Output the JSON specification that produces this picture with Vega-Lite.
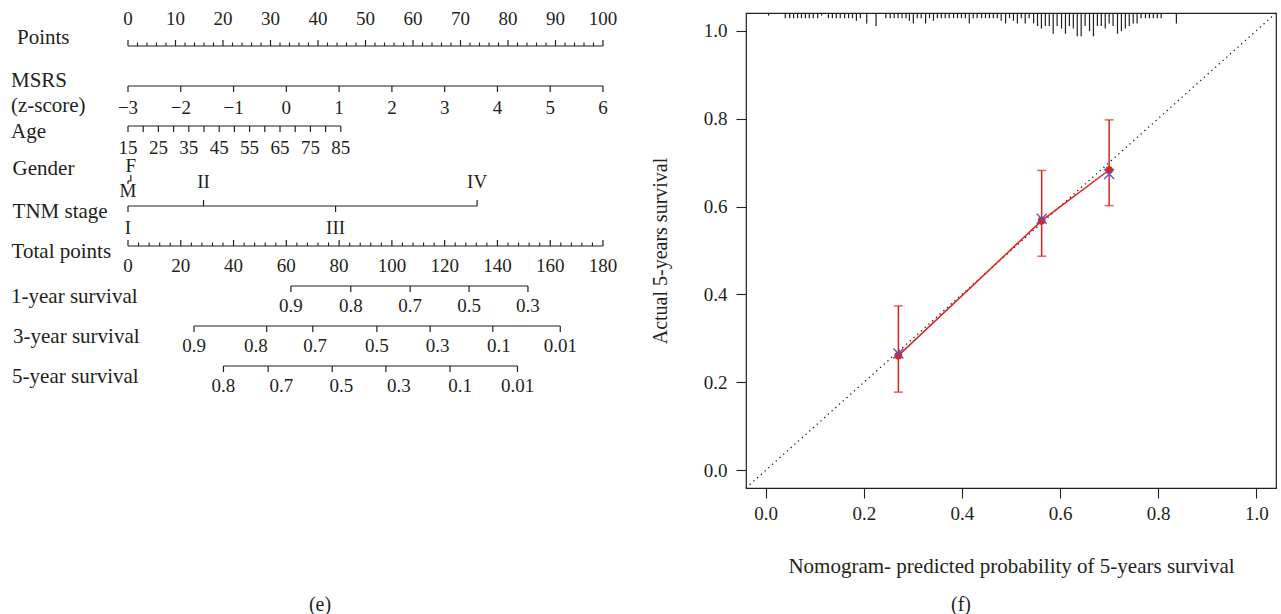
{
  "$schema": "https://vega.github.io/schema/vega-lite/v6.json",
  "padding": {"left": 0, "top": 9, "right": 0, "bottom": 0},
  "background": "white",
  "bounds": "flush",
  "spacing": 106,
  "config": {
    "view": {"stroke": "#231f20", "strokeWidth": 1.2},
    "text": {"font": "Liberation Serif", "fontSize": 19, "fill": "#231f20", "baseline": "middle"},
    "title": {"font": "Liberation Serif", "fontSize": 20, "fontWeight": "normal", "color": "#231f20"},
    "axis": {
      "labelFont": "Liberation Serif", "labelFontSize": 19, "labelColor": "#231f20",
      "titleFont": "Liberation Serif", "titleFontSize": 21, "titleFontWeight": "normal", "titleColor": "#231f20",
      "tickColor": "#231f20", "tickSize": 10, "tickWidth": 1.1, "domain": false, "grid": false, "labelPadding": 6
    }
  },
  "datasets": {
    "rows": [
      {"row": "Points", "level": 1},
      {"row": "MSRS", "level": 2},
      {"row": "Age", "level": 3},
      {"row": "Gender", "level": 4.375},
      {"row": "TNM stage", "level": 5},
      {"row": "Total points", "level": 6},
      {"row": "1-year survival", "level": 7},
      {"row": "3-year survival", "level": 8},
      {"row": "5-year survival", "level": 9}
    ],
    "names": [
      {"name": "Points", "row": "Points", "pts": -23.37},
      {"name": "MSRS", "row": "MSRS", "pts": -24.63},
      {"name": "(z-score)", "row": "MSRS", "pts": -24.63},
      {"name": "Age", "row": "Age", "pts": -24.63},
      {"name": "Gender", "row": "Gender", "pts": -24.3},
      {"name": "TNM stage", "row": "TNM stage", "pts": -24.3},
      {"name": "Total points", "row": "Total points", "pts": -24.5},
      {"name": "1-year survival", "row": "1-year survival", "pts": -24.63},
      {"name": "3-year survival", "row": "3-year survival", "pts": -24.2},
      {"name": "5-year survival", "row": "5-year survival", "pts": -24.4}
    ],
    "ticks": [
      {"row": "Points", "pts": 0, "kind": "major", "side": "up"},
      {"row": "Points", "pts": 2, "kind": "minor", "side": "up"},
      {"row": "Points", "pts": 4, "kind": "minor", "side": "up"},
      {"row": "Points", "pts": 6, "kind": "minor", "side": "up"},
      {"row": "Points", "pts": 8, "kind": "minor", "side": "up"},
      {"row": "Points", "pts": 10, "kind": "major", "side": "up"},
      {"row": "Points", "pts": 12, "kind": "minor", "side": "up"},
      {"row": "Points", "pts": 14, "kind": "minor", "side": "up"},
      {"row": "Points", "pts": 16, "kind": "minor", "side": "up"},
      {"row": "Points", "pts": 18, "kind": "minor", "side": "up"},
      {"row": "Points", "pts": 20, "kind": "major", "side": "up"},
      {"row": "Points", "pts": 22, "kind": "minor", "side": "up"},
      {"row": "Points", "pts": 24, "kind": "minor", "side": "up"},
      {"row": "Points", "pts": 26, "kind": "minor", "side": "up"},
      {"row": "Points", "pts": 28, "kind": "minor", "side": "up"},
      {"row": "Points", "pts": 30, "kind": "major", "side": "up"},
      {"row": "Points", "pts": 32, "kind": "minor", "side": "up"},
      {"row": "Points", "pts": 34, "kind": "minor", "side": "up"},
      {"row": "Points", "pts": 36, "kind": "minor", "side": "up"},
      {"row": "Points", "pts": 38, "kind": "minor", "side": "up"},
      {"row": "Points", "pts": 40, "kind": "major", "side": "up"},
      {"row": "Points", "pts": 42, "kind": "minor", "side": "up"},
      {"row": "Points", "pts": 44, "kind": "minor", "side": "up"},
      {"row": "Points", "pts": 46, "kind": "minor", "side": "up"},
      {"row": "Points", "pts": 48, "kind": "minor", "side": "up"},
      {"row": "Points", "pts": 50, "kind": "major", "side": "up"},
      {"row": "Points", "pts": 52, "kind": "minor", "side": "up"},
      {"row": "Points", "pts": 54, "kind": "minor", "side": "up"},
      {"row": "Points", "pts": 56, "kind": "minor", "side": "up"},
      {"row": "Points", "pts": 58, "kind": "minor", "side": "up"},
      {"row": "Points", "pts": 60, "kind": "major", "side": "up"},
      {"row": "Points", "pts": 62, "kind": "minor", "side": "up"},
      {"row": "Points", "pts": 64, "kind": "minor", "side": "up"},
      {"row": "Points", "pts": 66, "kind": "minor", "side": "up"},
      {"row": "Points", "pts": 68, "kind": "minor", "side": "up"},
      {"row": "Points", "pts": 70, "kind": "major", "side": "up"},
      {"row": "Points", "pts": 72, "kind": "minor", "side": "up"},
      {"row": "Points", "pts": 74, "kind": "minor", "side": "up"},
      {"row": "Points", "pts": 76, "kind": "minor", "side": "up"},
      {"row": "Points", "pts": 78, "kind": "minor", "side": "up"},
      {"row": "Points", "pts": 80, "kind": "major", "side": "up"},
      {"row": "Points", "pts": 82, "kind": "minor", "side": "up"},
      {"row": "Points", "pts": 84, "kind": "minor", "side": "up"},
      {"row": "Points", "pts": 86, "kind": "minor", "side": "up"},
      {"row": "Points", "pts": 88, "kind": "minor", "side": "up"},
      {"row": "Points", "pts": 90, "kind": "major", "side": "up"},
      {"row": "Points", "pts": 92, "kind": "minor", "side": "up"},
      {"row": "Points", "pts": 94, "kind": "minor", "side": "up"},
      {"row": "Points", "pts": 96, "kind": "minor", "side": "up"},
      {"row": "Points", "pts": 98, "kind": "minor", "side": "up"},
      {"row": "Points", "pts": 100, "kind": "major", "side": "up"},
      {"row": "MSRS", "pts": 0, "kind": "major", "side": "down"},
      {"row": "MSRS", "pts": 11.111, "kind": "major", "side": "down"},
      {"row": "MSRS", "pts": 22.222, "kind": "major", "side": "down"},
      {"row": "MSRS", "pts": 33.333, "kind": "major", "side": "down"},
      {"row": "MSRS", "pts": 44.444, "kind": "major", "side": "down"},
      {"row": "MSRS", "pts": 55.556, "kind": "major", "side": "down"},
      {"row": "MSRS", "pts": 66.667, "kind": "major", "side": "down"},
      {"row": "MSRS", "pts": 77.778, "kind": "major", "side": "down"},
      {"row": "MSRS", "pts": 88.889, "kind": "major", "side": "down"},
      {"row": "MSRS", "pts": 100, "kind": "major", "side": "down"},
      {"row": "Age", "pts": 0, "kind": "major", "side": "down"},
      {"row": "Age", "pts": 3.2, "kind": "major", "side": "down"},
      {"row": "Age", "pts": 6.4, "kind": "major", "side": "down"},
      {"row": "Age", "pts": 9.6, "kind": "major", "side": "down"},
      {"row": "Age", "pts": 12.8, "kind": "major", "side": "down"},
      {"row": "Age", "pts": 16, "kind": "major", "side": "down"},
      {"row": "Age", "pts": 19.2, "kind": "major", "side": "down"},
      {"row": "Age", "pts": 22.4, "kind": "major", "side": "down"},
      {"row": "Age", "pts": 25.6, "kind": "major", "side": "down"},
      {"row": "Age", "pts": 28.8, "kind": "major", "side": "down"},
      {"row": "Age", "pts": 32, "kind": "major", "side": "down"},
      {"row": "Age", "pts": 35.2, "kind": "major", "side": "down"},
      {"row": "Age", "pts": 38.4, "kind": "major", "side": "down"},
      {"row": "Age", "pts": 41.6, "kind": "major", "side": "down"},
      {"row": "Age", "pts": 44.8, "kind": "major", "side": "down"},
      {"row": "Gender", "pts": 0, "kind": "minor", "side": "down"},
      {"row": "Gender", "pts": 0.6, "kind": "major", "side": "up"},
      {"row": "TNM stage", "pts": 0, "kind": "major", "side": "down"},
      {"row": "TNM stage", "pts": 15.9, "kind": "major", "side": "up"},
      {"row": "TNM stage", "pts": 43.7, "kind": "major", "side": "down"},
      {"row": "TNM stage", "pts": 73.5, "kind": "major", "side": "up"},
      {"row": "Total points", "pts": 0, "kind": "major", "side": "up"},
      {"row": "Total points", "pts": 2.222, "kind": "minor", "side": "up"},
      {"row": "Total points", "pts": 4.444, "kind": "minor", "side": "up"},
      {"row": "Total points", "pts": 6.667, "kind": "minor", "side": "up"},
      {"row": "Total points", "pts": 8.889, "kind": "minor", "side": "up"},
      {"row": "Total points", "pts": 11.111, "kind": "major", "side": "up"},
      {"row": "Total points", "pts": 13.333, "kind": "minor", "side": "up"},
      {"row": "Total points", "pts": 15.556, "kind": "minor", "side": "up"},
      {"row": "Total points", "pts": 17.778, "kind": "minor", "side": "up"},
      {"row": "Total points", "pts": 20, "kind": "minor", "side": "up"},
      {"row": "Total points", "pts": 22.222, "kind": "major", "side": "up"},
      {"row": "Total points", "pts": 24.444, "kind": "minor", "side": "up"},
      {"row": "Total points", "pts": 26.667, "kind": "minor", "side": "up"},
      {"row": "Total points", "pts": 28.889, "kind": "minor", "side": "up"},
      {"row": "Total points", "pts": 31.111, "kind": "minor", "side": "up"},
      {"row": "Total points", "pts": 33.333, "kind": "major", "side": "up"},
      {"row": "Total points", "pts": 35.556, "kind": "minor", "side": "up"},
      {"row": "Total points", "pts": 37.778, "kind": "minor", "side": "up"},
      {"row": "Total points", "pts": 40, "kind": "minor", "side": "up"},
      {"row": "Total points", "pts": 42.222, "kind": "minor", "side": "up"},
      {"row": "Total points", "pts": 44.444, "kind": "major", "side": "up"},
      {"row": "Total points", "pts": 46.667, "kind": "minor", "side": "up"},
      {"row": "Total points", "pts": 48.889, "kind": "minor", "side": "up"},
      {"row": "Total points", "pts": 51.111, "kind": "minor", "side": "up"},
      {"row": "Total points", "pts": 53.333, "kind": "minor", "side": "up"},
      {"row": "Total points", "pts": 55.556, "kind": "major", "side": "up"},
      {"row": "Total points", "pts": 57.778, "kind": "minor", "side": "up"},
      {"row": "Total points", "pts": 60, "kind": "minor", "side": "up"},
      {"row": "Total points", "pts": 62.222, "kind": "minor", "side": "up"},
      {"row": "Total points", "pts": 64.444, "kind": "minor", "side": "up"},
      {"row": "Total points", "pts": 66.667, "kind": "major", "side": "up"},
      {"row": "Total points", "pts": 68.889, "kind": "minor", "side": "up"},
      {"row": "Total points", "pts": 71.111, "kind": "minor", "side": "up"},
      {"row": "Total points", "pts": 73.333, "kind": "minor", "side": "up"},
      {"row": "Total points", "pts": 75.556, "kind": "minor", "side": "up"},
      {"row": "Total points", "pts": 77.778, "kind": "major", "side": "up"},
      {"row": "Total points", "pts": 80, "kind": "minor", "side": "up"},
      {"row": "Total points", "pts": 82.222, "kind": "minor", "side": "up"},
      {"row": "Total points", "pts": 84.444, "kind": "minor", "side": "up"},
      {"row": "Total points", "pts": 86.667, "kind": "minor", "side": "up"},
      {"row": "Total points", "pts": 88.889, "kind": "major", "side": "up"},
      {"row": "Total points", "pts": 91.111, "kind": "minor", "side": "up"},
      {"row": "Total points", "pts": 93.333, "kind": "minor", "side": "up"},
      {"row": "Total points", "pts": 95.556, "kind": "minor", "side": "up"},
      {"row": "Total points", "pts": 97.778, "kind": "minor", "side": "up"},
      {"row": "Total points", "pts": 100, "kind": "major", "side": "up"},
      {"row": "1-year survival", "pts": 34.3, "kind": "major", "side": "down"},
      {"row": "1-year survival", "pts": 46.9, "kind": "major", "side": "down"},
      {"row": "1-year survival", "pts": 59.4, "kind": "major", "side": "down"},
      {"row": "1-year survival", "pts": 71.8, "kind": "major", "side": "down"},
      {"row": "1-year survival", "pts": 84.2, "kind": "major", "side": "down"},
      {"row": "3-year survival", "pts": 13.9, "kind": "major", "side": "down"},
      {"row": "3-year survival", "pts": 29.2, "kind": "major", "side": "down"},
      {"row": "3-year survival", "pts": 38.9, "kind": "major", "side": "down"},
      {"row": "3-year survival", "pts": 52.4, "kind": "major", "side": "down"},
      {"row": "3-year survival", "pts": 63.6, "kind": "major", "side": "down"},
      {"row": "3-year survival", "pts": 76.8, "kind": "major", "side": "down"},
      {"row": "3-year survival", "pts": 91.0, "kind": "major", "side": "down"},
      {"row": "5-year survival", "pts": 20.1, "kind": "major", "side": "down"},
      {"row": "5-year survival", "pts": 29.5, "kind": "major", "side": "down"},
      {"row": "5-year survival", "pts": 43.0, "kind": "major", "side": "down"},
      {"row": "5-year survival", "pts": 54.3, "kind": "major", "side": "down"},
      {"row": "5-year survival", "pts": 67.8, "kind": "major", "side": "down"},
      {"row": "5-year survival", "pts": 82.0, "kind": "major", "side": "down"}
    ],
    "labels": [
      {"row": "Points", "text": "0", "pts": 0, "side": "up"},
      {"row": "Points", "text": "10", "pts": 10, "side": "up"},
      {"row": "Points", "text": "20", "pts": 20, "side": "up"},
      {"row": "Points", "text": "30", "pts": 30, "side": "up"},
      {"row": "Points", "text": "40", "pts": 40, "side": "up"},
      {"row": "Points", "text": "50", "pts": 50, "side": "up"},
      {"row": "Points", "text": "60", "pts": 60, "side": "up"},
      {"row": "Points", "text": "70", "pts": 70, "side": "up"},
      {"row": "Points", "text": "80", "pts": 80, "side": "up"},
      {"row": "Points", "text": "90", "pts": 90, "side": "up"},
      {"row": "Points", "text": "100", "pts": 100, "side": "up"},
      {"row": "MSRS", "text": "−3", "pts": 0, "side": "down"},
      {"row": "MSRS", "text": "−2", "pts": 11.111, "side": "down"},
      {"row": "MSRS", "text": "−1", "pts": 22.222, "side": "down"},
      {"row": "MSRS", "text": "0", "pts": 33.333, "side": "down"},
      {"row": "MSRS", "text": "1", "pts": 44.444, "side": "down"},
      {"row": "MSRS", "text": "2", "pts": 55.556, "side": "down"},
      {"row": "MSRS", "text": "3", "pts": 66.667, "side": "down"},
      {"row": "MSRS", "text": "4", "pts": 77.778, "side": "down"},
      {"row": "MSRS", "text": "5", "pts": 88.889, "side": "down"},
      {"row": "MSRS", "text": "6", "pts": 100, "side": "down"},
      {"row": "Age", "text": "15", "pts": 0, "side": "down"},
      {"row": "Age", "text": "25", "pts": 6.4, "side": "down"},
      {"row": "Age", "text": "35", "pts": 12.8, "side": "down"},
      {"row": "Age", "text": "45", "pts": 19.2, "side": "down"},
      {"row": "Age", "text": "55", "pts": 25.6, "side": "down"},
      {"row": "Age", "text": "65", "pts": 32, "side": "down"},
      {"row": "Age", "text": "75", "pts": 38.4, "side": "down"},
      {"row": "Age", "text": "85", "pts": 44.8, "side": "down"},
      {"row": "Gender", "text": "F", "pts": 0.6, "side": "up"},
      {"row": "Gender", "text": "M", "pts": 0, "side": "down"},
      {"row": "TNM stage", "text": "I", "pts": 0, "side": "down"},
      {"row": "TNM stage", "text": "II", "pts": 15.9, "side": "up"},
      {"row": "TNM stage", "text": "III", "pts": 43.7, "side": "down"},
      {"row": "TNM stage", "text": "IV", "pts": 73.5, "side": "up"},
      {"row": "Total points", "text": "0", "pts": 0, "side": "down"},
      {"row": "Total points", "text": "20", "pts": 11.111, "side": "down"},
      {"row": "Total points", "text": "40", "pts": 22.222, "side": "down"},
      {"row": "Total points", "text": "60", "pts": 33.333, "side": "down"},
      {"row": "Total points", "text": "80", "pts": 44.444, "side": "down"},
      {"row": "Total points", "text": "100", "pts": 55.556, "side": "down"},
      {"row": "Total points", "text": "120", "pts": 66.667, "side": "down"},
      {"row": "Total points", "text": "140", "pts": 77.778, "side": "down"},
      {"row": "Total points", "text": "160", "pts": 88.889, "side": "down"},
      {"row": "Total points", "text": "180", "pts": 100, "side": "down"},
      {"row": "1-year survival", "text": "0.9", "pts": 34.3, "side": "down"},
      {"row": "1-year survival", "text": "0.8", "pts": 46.9, "side": "down"},
      {"row": "1-year survival", "text": "0.7", "pts": 59.4, "side": "down"},
      {"row": "1-year survival", "text": "0.5", "pts": 71.8, "side": "down"},
      {"row": "1-year survival", "text": "0.3", "pts": 84.2, "side": "down"},
      {"row": "3-year survival", "text": "0.9", "pts": 13.9, "side": "down"},
      {"row": "3-year survival", "text": "0.8", "pts": 26.9, "side": "down"},
      {"row": "3-year survival", "text": "0.7", "pts": 39.4, "side": "down"},
      {"row": "3-year survival", "text": "0.5", "pts": 52.4, "side": "down"},
      {"row": "3-year survival", "text": "0.3", "pts": 65.2, "side": "down"},
      {"row": "3-year survival", "text": "0.1", "pts": 78.1, "side": "down"},
      {"row": "3-year survival", "text": "0.01", "pts": 91.0, "side": "down"},
      {"row": "5-year survival", "text": "0.8", "pts": 20.1, "side": "down"},
      {"row": "5-year survival", "text": "0.7", "pts": 32.3, "side": "down"},
      {"row": "5-year survival", "text": "0.5", "pts": 44.9, "side": "down"},
      {"row": "5-year survival", "text": "0.3", "pts": 57.0, "side": "down"},
      {"row": "5-year survival", "text": "0.1", "pts": 69.9, "side": "down"},
      {"row": "5-year survival", "text": "0.01", "pts": 82.0, "side": "down"}
    ],
    "calib": [
      {"p": 0.2705, "km": 0.261, "lo": 0.178, "hi": 0.374, "corr": 0.266},
      {"p": 0.5625, "km": 0.568, "lo": 0.487, "hi": 0.682, "corr": 0.572},
      {"p": 0.700, "km": 0.683, "lo": 0.602, "hi": 0.797, "corr": 0.674}
    ],
    "rug": [
      {"p": 0.006, "freq": 1},
      {"p": 0.040, "freq": 2}, {"p": 0.049, "freq": 2}, {"p": 0.057, "freq": 2}, {"p": 0.065, "freq": 2}, {"p": 0.073, "freq": 2},
      {"p": 0.081, "freq": 2}, {"p": 0.089, "freq": 2}, {"p": 0.097, "freq": 2}, {"p": 0.106, "freq": 2},
      {"p": 0.114, "freq": 1},
      {"p": 0.128, "freq": 2}, {"p": 0.136, "freq": 2}, {"p": 0.144, "freq": 2}, {"p": 0.152, "freq": 2}, {"p": 0.161, "freq": 2},
      {"p": 0.169, "freq": 2}, {"p": 0.177, "freq": 2},
      {"p": 0.185, "freq": 3}, {"p": 0.193, "freq": 2},
      {"p": 0.206, "freq": 4}, {"p": 0.225, "freq": 5},
      {"p": 0.245, "freq": 2}, {"p": 0.254, "freq": 2}, {"p": 0.262, "freq": 2}, {"p": 0.270, "freq": 2}, {"p": 0.278, "freq": 2}, {"p": 0.286, "freq": 2},
      {"p": 0.293, "freq": 3}, {"p": 0.301, "freq": 4}, {"p": 0.309, "freq": 2}, {"p": 0.317, "freq": 2}, {"p": 0.326, "freq": 4}, {"p": 0.334, "freq": 2}, {"p": 0.342, "freq": 3},
      {"p": 0.350, "freq": 2}, {"p": 0.358, "freq": 2}, {"p": 0.366, "freq": 2}, {"p": 0.374, "freq": 2}, {"p": 0.383, "freq": 2}, {"p": 0.391, "freq": 2}, {"p": 0.399, "freq": 2}, {"p": 0.407, "freq": 2},
      {"p": 0.415, "freq": 4}, {"p": 0.423, "freq": 2},
      {"p": 0.431, "freq": 2}, {"p": 0.440, "freq": 2}, {"p": 0.448, "freq": 2}, {"p": 0.456, "freq": 2}, {"p": 0.464, "freq": 2}, {"p": 0.472, "freq": 2},
      {"p": 0.480, "freq": 3}, {"p": 0.489, "freq": 4}, {"p": 0.497, "freq": 2}, {"p": 0.505, "freq": 3}, {"p": 0.513, "freq": 4}, {"p": 0.521, "freq": 2}, {"p": 0.529, "freq": 4}, {"p": 0.537, "freq": 2}, {"p": 0.546, "freq": 4},
      {"p": 0.554, "freq": 5}, {"p": 0.562, "freq": 6}, {"p": 0.570, "freq": 5}, {"p": 0.578, "freq": 5}, {"p": 0.586, "freq": 8}, {"p": 0.594, "freq": 5},
      {"p": 0.603, "freq": 6}, {"p": 0.611, "freq": 8}, {"p": 0.619, "freq": 5}, {"p": 0.627, "freq": 6}, {"p": 0.635, "freq": 9}, {"p": 0.643, "freq": 9},
      {"p": 0.651, "freq": 5}, {"p": 0.660, "freq": 7}, {"p": 0.668, "freq": 9}, {"p": 0.676, "freq": 5}, {"p": 0.684, "freq": 5}, {"p": 0.692, "freq": 6},
      {"p": 0.700, "freq": 4}, {"p": 0.708, "freq": 5}, {"p": 0.717, "freq": 8}, {"p": 0.725, "freq": 7}, {"p": 0.733, "freq": 6}, {"p": 0.741, "freq": 5},
      {"p": 0.749, "freq": 4}, {"p": 0.757, "freq": 4}, {"p": 0.765, "freq": 2},
      {"p": 0.774, "freq": 2}, {"p": 0.782, "freq": 2}, {"p": 0.790, "freq": 2}, {"p": 0.798, "freq": 2}, {"p": 0.806, "freq": 2},
      {"p": 0.837, "freq": 4}
    ]
  },
  "hconcat": [
    {
      "width": 640,
      "height": 580,
      "view": {"stroke": null},
      "title": {"text": "(e)", "orient": "bottom", "anchor": "middle", "offset": 2},
      "encoding": {
        "x": {"field": "pts", "type": "quantitative", "scale": {"domain": [-26.947, 107.789], "nice": false, "zero": false}, "axis": null},
        "y": {"field": "level", "type": "quantitative", "scale": {"domain": [0.175, 14.675], "reverse": true, "nice": false, "zero": false}, "axis": null}
      },
      "layer": [
        {
          "data": {"name": "ticks"},
          "transform": [
            {"lookup": "row", "from": {"data": {"name": "rows"}, "key": "row", "fields": ["level"]}},
            {"aggregate": [{"op": "min", "field": "pts", "as": "lo"}, {"op": "max", "field": "pts", "as": "hi"}], "groupby": ["row", "level"]}
          ],
          "mark": {"type": "rule", "color": "#231f20", "strokeWidth": 1.2},
          "encoding": {
            "x": {"field": "lo", "type": "quantitative", "scale": {"domain": [-26.947, 107.789], "nice": false, "zero": false}, "axis": null},
            "x2": {"field": "hi"}
          }
        },
        {
          "data": {"name": "ticks"},
          "transform": [
            {"lookup": "row", "from": {"data": {"name": "rows"}, "key": "row", "fields": ["level"]}},
            {"filter": "datum.side == 'up' && datum.kind == 'major'"}
          ],
          "mark": {"type": "rule", "color": "#231f20", "strokeWidth": 1.2, "y2Offset": -6},
          "encoding": {"y2": {"field": "level"}}
        },
        {
          "data": {"name": "ticks"},
          "transform": [
            {"lookup": "row", "from": {"data": {"name": "rows"}, "key": "row", "fields": ["level"]}},
            {"filter": "datum.side == 'up' && datum.kind == 'minor'"}
          ],
          "mark": {"type": "rule", "color": "#231f20", "strokeWidth": 1.1, "y2Offset": -3.5},
          "encoding": {"y2": {"field": "level"}}
        },
        {
          "data": {"name": "ticks"},
          "transform": [
            {"lookup": "row", "from": {"data": {"name": "rows"}, "key": "row", "fields": ["level"]}},
            {"filter": "datum.side == 'down' && datum.kind == 'major'"}
          ],
          "mark": {"type": "rule", "color": "#231f20", "strokeWidth": 1.2, "y2Offset": 6},
          "encoding": {"y2": {"field": "level"}}
        },
        {
          "data": {"name": "ticks"},
          "transform": [
            {"lookup": "row", "from": {"data": {"name": "rows"}, "key": "row", "fields": ["level"]}},
            {"filter": "datum.side == 'down' && datum.kind == 'minor'"}
          ],
          "mark": {"type": "rule", "color": "#231f20", "strokeWidth": 1.2, "y2Offset": 3},
          "encoding": {"y2": {"field": "level"}}
        },
        {
          "data": {"name": "labels"},
          "transform": [
            {"lookup": "row", "from": {"data": {"name": "rows"}, "key": "row", "fields": ["level"]}},
            {"filter": "datum.row == 'Points'"}
          ],
          "mark": {"type": "text", "dy": -27},
          "encoding": {"text": {"field": "text"}}
        },
        {
          "data": {"name": "labels"},
          "transform": [
            {"lookup": "row", "from": {"data": {"name": "rows"}, "key": "row", "fields": ["level"]}},
            {"filter": "datum.row == 'TNM stage' && datum.side == 'up'"}
          ],
          "mark": {"type": "text", "dy": -24},
          "encoding": {"text": {"field": "text"}}
        },
        {
          "data": {"name": "labels"},
          "transform": [
            {"lookup": "row", "from": {"data": {"name": "rows"}, "key": "row", "fields": ["level"]}},
            {"filter": "(datum.row == 'MSRS' || datum.row == 'Age' || datum.row == 'TNM stage') && datum.side == 'down'"}
          ],
          "mark": {"type": "text", "dy": 22},
          "encoding": {"text": {"field": "text"}}
        },
        {
          "data": {"name": "labels"},
          "transform": [
            {"lookup": "row", "from": {"data": {"name": "rows"}, "key": "row", "fields": ["level"]}},
            {"filter": "datum.row == 'Total points' || indexof(datum.row, 'survival') >= 0"}
          ],
          "mark": {"type": "text", "dy": 20},
          "encoding": {"text": {"field": "text"}}
        },
        {
          "data": {"name": "labels"},
          "transform": [
            {"lookup": "row", "from": {"data": {"name": "rows"}, "key": "row", "fields": ["level"]}},
            {"filter": "datum.row == 'Gender' && datum.side == 'up'"}
          ],
          "mark": {"type": "text", "dy": -15},
          "encoding": {"text": {"field": "text"}}
        },
        {
          "data": {"name": "labels"},
          "transform": [
            {"lookup": "row", "from": {"data": {"name": "rows"}, "key": "row", "fields": ["level"]}},
            {"filter": "datum.row == 'Gender' && datum.side == 'down'"}
          ],
          "mark": {"type": "text", "dy": 10},
          "encoding": {"text": {"field": "text"}}
        },
        {
          "data": {"name": "names"},
          "transform": [
            {"lookup": "row", "from": {"data": {"name": "rows"}, "key": "row", "fields": ["level"]}},
            {"filter": "datum.name == 'Points'"}
          ],
          "mark": {"type": "text", "align": "left", "dy": -8, "fontSize": 21},
          "encoding": {"text": {"field": "name"}}
        },
        {
          "data": {"name": "names"},
          "transform": [
            {"lookup": "row", "from": {"data": {"name": "rows"}, "key": "row", "fields": ["level"]}},
            {"filter": "datum.name == 'MSRS'"}
          ],
          "mark": {"type": "text", "align": "left", "dy": -5, "fontSize": 21},
          "encoding": {"text": {"field": "name"}}
        },
        {
          "data": {"name": "names"},
          "transform": [
            {"lookup": "row", "from": {"data": {"name": "rows"}, "key": "row", "fields": ["level"]}},
            {"filter": "datum.name == '(z-score)'"}
          ],
          "mark": {"type": "text", "align": "left", "dy": 20, "fontSize": 21},
          "encoding": {"text": {"field": "name"}}
        },
        {
          "data": {"name": "names"},
          "transform": [
            {"lookup": "row", "from": {"data": {"name": "rows"}, "key": "row", "fields": ["level"]}},
            {"filter": "datum.name == 'Gender'"}
          ],
          "mark": {"type": "text", "align": "left", "dy": -12, "fontSize": 21},
          "encoding": {"text": {"field": "name"}}
        },
        {
          "data": {"name": "names"},
          "transform": [
            {"lookup": "row", "from": {"data": {"name": "rows"}, "key": "row", "fields": ["level"]}},
            {"filter": "datum.name == 'Age' || datum.name == 'TNM stage' || datum.name == 'Total points'"}
          ],
          "mark": {"type": "text", "align": "left", "dy": 5.5, "fontSize": 21},
          "encoding": {"text": {"field": "name"}}
        },
        {
          "data": {"name": "names"},
          "transform": [
            {"lookup": "row", "from": {"data": {"name": "rows"}, "key": "row", "fields": ["level"]}},
            {"filter": "indexof(datum.name, 'survival') >= 0"}
          ],
          "mark": {"type": "text", "align": "left", "dy": 11, "fontSize": 21},
          "encoding": {"text": {"field": "name"}}
        }
      ]
    },
    {
      "width": 530,
      "height": 475,
      "title": {"text": "(f)", "orient": "bottom", "anchor": "middle", "offset": 19, "dx": -50},
      "encoding": {
        "x": {
          "field": "p", "type": "quantitative",
          "scale": {"domain": [-0.04, 1.04], "nice": false, "zero": false},
          "axis": {"values": [0, 0.2, 0.4, 0.6, 0.8, 1], "format": ".1f", "title": "Nomogram- predicted probability of 5-years survival", "titlePadding": 32}
        }
      },
      "layer": [
        {
          "layer": [
            {
              "data": {"values": [{"p": -0.04, "o": -0.04}, {"p": 1.04, "o": 1.04}]},
              "mark": {"type": "line", "color": "#231f20", "strokeWidth": 1.3, "strokeDash": [1.3, 3.7]},
              "encoding": {
                "y": {"field": "o", "type": "quantitative", "scale": {"domain": [-0.04, 1.04], "nice": false, "zero": false},
                      "axis": {"values": [0, 0.2, 0.4, 0.6, 0.8, 1], "format": ".1f", "title": "Actual 5-years survival", "titleFontSize": 20, "titlePadding": 33, "labelPadding": 9}}
              }
            },
            {
              "data": {"name": "calib"},
              "mark": {"type": "rule", "color": "#e3211c", "strokeWidth": 1.5},
              "encoding": {
                "y": {"field": "lo", "type": "quantitative", "scale": {"domain": [-0.04, 1.04], "nice": false, "zero": false},
                      "axis": {"values": [0, 0.2, 0.4, 0.6, 0.8, 1], "format": ".1f", "title": "Actual 5-years survival", "titleFontSize": 20, "titlePadding": 33, "labelPadding": 9}},
                "y2": {"field": "hi"}
              }
            },
            {
              "data": {"name": "calib"},
              "mark": {"type": "tick", "orient": "horizontal", "color": "#e3211c", "size": 9, "thickness": 1.5},
              "encoding": {
                "y": {"field": "lo", "type": "quantitative", "scale": {"domain": [-0.04, 1.04], "nice": false, "zero": false},
                      "axis": {"values": [0, 0.2, 0.4, 0.6, 0.8, 1], "format": ".1f", "title": "Actual 5-years survival", "titleFontSize": 20, "titlePadding": 33, "labelPadding": 9}}
              }
            },
            {
              "data": {"name": "calib"},
              "mark": {"type": "tick", "orient": "horizontal", "color": "#e3211c", "size": 9, "thickness": 1.5},
              "encoding": {
                "y": {"field": "hi", "type": "quantitative", "scale": {"domain": [-0.04, 1.04], "nice": false, "zero": false},
                      "axis": {"values": [0, 0.2, 0.4, 0.6, 0.8, 1], "format": ".1f", "title": "Actual 5-years survival", "titleFontSize": 20, "titlePadding": 33, "labelPadding": 9}}
              }
            },
            {
              "data": {"name": "calib"},
              "mark": {"type": "line", "color": "#e3211c", "strokeWidth": 1.5},
              "encoding": {
                "y": {"field": "km", "type": "quantitative", "scale": {"domain": [-0.04, 1.04], "nice": false, "zero": false},
                      "axis": {"values": [0, 0.2, 0.4, 0.6, 0.8, 1], "format": ".1f", "title": "Actual 5-years survival", "titleFontSize": 20, "titlePadding": 33, "labelPadding": 9}}
              }
            },
            {
              "data": {"name": "calib"},
              "mark": {"type": "point", "filled": true, "color": "#e3211c", "size": 60, "opacity": 1},
              "encoding": {
                "y": {"field": "km", "type": "quantitative", "scale": {"domain": [-0.04, 1.04], "nice": false, "zero": false},
                      "axis": {"values": [0, 0.2, 0.4, 0.6, 0.8, 1], "format": ".1f", "title": "Actual 5-years survival", "titleFontSize": 20, "titlePadding": 33, "labelPadding": 9}}
              }
            },
            {
              "data": {"name": "calib"},
              "mark": {"type": "point", "shape": "M-1,-1L1,1M-1,1L1,-1", "filled": false, "color": "#5555c4", "strokeWidth": 1.3, "size": 100, "opacity": 1},
              "encoding": {
                "y": {"field": "corr", "type": "quantitative", "scale": {"domain": [-0.04, 1.04], "nice": false, "zero": false},
                      "axis": {"values": [0, 0.2, 0.4, 0.6, 0.8, 1], "format": ".1f", "title": "Actual 5-years survival", "titleFontSize": 20, "titlePadding": 33, "labelPadding": 9}}
              }
            }
          ]
        },
        {
          "data": {"name": "rug"},
          "mark": {"type": "rule", "color": "#231f20", "strokeWidth": 1.2},
          "encoding": {
            "y": {"field": "freq", "type": "quantitative", "scale": {"domain": [0, 183], "reverse": true, "nice": false, "zero": false}, "axis": null},
            "y2": {"datum": 0}
          }
        }
      ],
      "resolve": {"scale": {"y": "independent"}}
    }
  ]
}
